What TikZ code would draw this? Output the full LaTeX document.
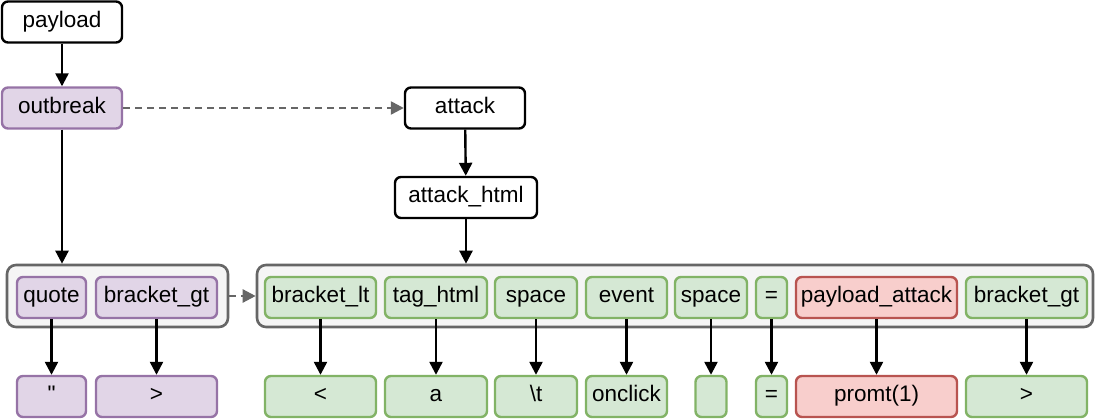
\documentclass[tikz,border=0pt]{standalone}
\usepackage{fontspec}
\setmainfont{Liberation Sans}[Ligatures=TeXOff]
\usetikzlibrary{arrows.meta}
\definecolor{purpfill}{HTML}{E1D5E7}
\definecolor{purpline}{HTML}{9673A6}
\definecolor{grnfill}{HTML}{D5E8D4}
\definecolor{grnline}{HTML}{82B366}
\definecolor{redfill}{HTML}{F8CECC}
\definecolor{redline}{HTML}{B85450}
\definecolor{boxfill}{HTML}{F5F5F5}
\definecolor{boxline}{HTML}{666666}
\tikzset{
  box/.style = {draw, fill=white, line width=2.4pt, rounded corners=6pt, minimum height=41pt,
    inner sep=0pt, text height=16pt, text depth=5pt, font=\fontsize{22.5}{26}\selectfont},
  purp/.style = {box, fill=purpfill, draw=purpline},
  grn/.style = {box, fill=grnfill, draw=grnline},
  rd/.style = {box, fill=redfill, draw=redline},
  group/.style = {draw=boxline, fill=boxfill, line width=2.6pt, rounded corners=9pt, minimum height=62pt, inner sep=0pt},
  arr/.style = {line width=2.4pt, -{Triangle[length=13pt,width=13pt]}},
  darr/.style = {line width=2.4pt, draw=boxline, dash pattern=on 7pt off 5pt, -{Triangle[length=13pt,width=13pt]}, color=boxline}
}

\begin{document}
\begin{tikzpicture}[x=1pt, y=-1pt]
\useasboundingbox (0,0) rectangle (1098,419);

% top of the tree
\node [box, minimum width=120pt] (payload) at (62,22) {payload};
\node [purp, minimum width=120pt] (outbreak) at (62,108) {outbreak};
\node [box, minimum width=120pt] (attack) at (465,108) {attack};
\node [box, minimum width=142pt] (ahtml) at (466,197.5) {attack\_html};

% groups
\node [group, minimum width=221pt] (lbox) at (117.5,296) {};
\node [group, minimum width=836pt] (rbox) at (675,296) {};

% tokens
\node [purp, minimum width=69pt] (t1) at (51.5,297.5) {quote};
\node [purp, minimum width=121pt] (t2) at (156.5,297.5) {bracket\_gt};
\node [grn, minimum width=111pt] (t3) at (320.5,297.5) {bracket\_lt};
\node [grn, minimum width=102pt] (t4) at (436,297.5) {tag\_html};
\node [grn, minimum width=82pt] (t5) at (536,297.5) {space};
\node [grn, minimum width=81pt] (t6) at (626.5,297.5) {event};
\node [grn, minimum width=72pt] (t7) at (711,297.5) {space};
\node [grn, minimum width=31pt] (t8) at (771.5,297.5) {=};
\node [rd, minimum width=161pt] (t9) at (876.5,297.5) {payload\_attack};
\node [grn, minimum width=121pt] (t10) at (1026.5,297.5) {bracket\_gt};

% values
\node [purp, minimum width=69pt] (b1) at (51.5,396.5) {"};
\node [purp, minimum width=121pt] (b2) at (156.5,396.5) {>};
\node [grn, minimum width=111pt] (b3) at (320.5,396.5) {<};
\node [grn, minimum width=102pt] (b4) at (436,396.5) {a};
\node [grn, minimum width=82pt] (b5) at (536,396.5) {\textbackslash t};
\node [grn, minimum width=81pt] (b6) at (626.5,396.5) {onclick};
\node [grn, minimum width=31pt] (b7) at (711,396.5) {};
\node [grn, minimum width=31pt] (b8) at (771.5,396.5) {=};
\node [rd, minimum width=161pt] (b9) at (876.5,396.5) {promt(1)};
\node [grn, minimum width=121pt] (b10) at (1026.5,396.5) {>};

% connectors
\draw [arr] (payload) -- (outbreak);
\draw [darr] (outbreak) -- (attack);
\draw [arr] (attack) -- (ahtml);
\draw [arr] (outbreak) -- (outbreak |- lbox.north);
\draw [arr] (ahtml) -- (ahtml |- rbox.north);
\draw [darr] (lbox) -- (rbox);
\foreach \n in {1,...,10}
  \draw [arr] (t\n) -- (b\n);
\end{tikzpicture}
\end{document}
